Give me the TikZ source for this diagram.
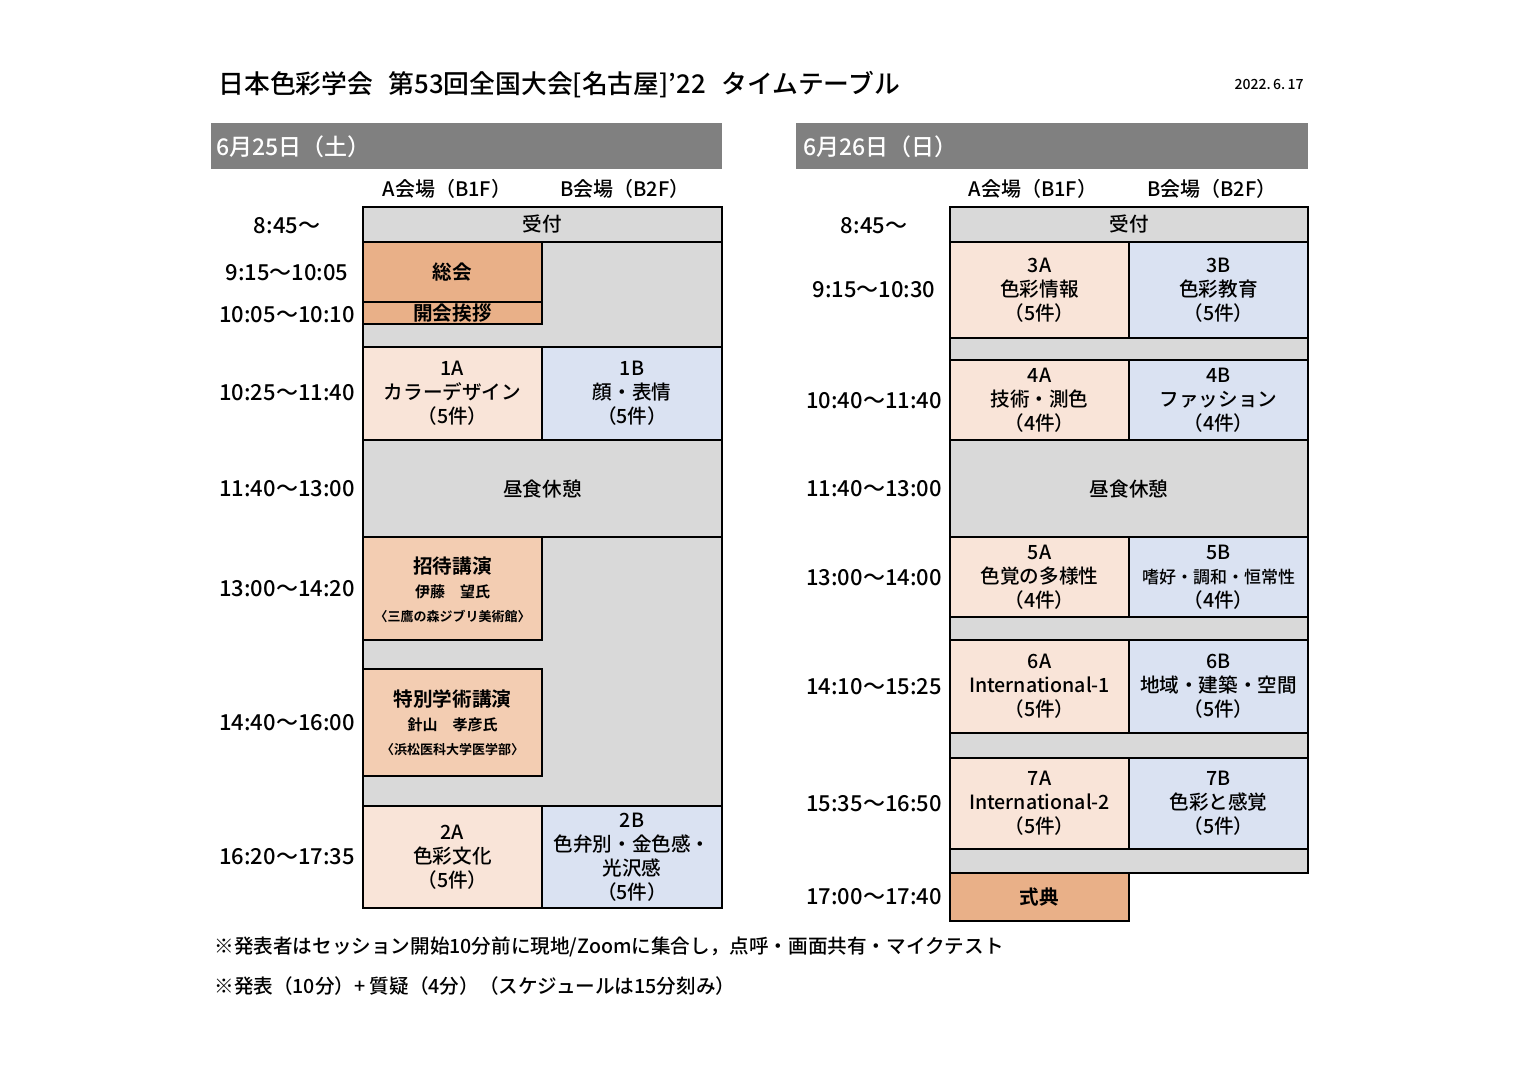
\documentclass[tikz,border=0pt]{standalone}
\usepackage{fontspec}
\setmainfont{Noto Sans CJK JP Medium}[BoldFont={Noto Sans CJK JP Bold}]
\usepackage{xcolor}
\usetikzlibrary{calc}
\definecolor{hdrgray}{HTML}{808080}
\definecolor{cellgray}{HTML}{D9D9D9}
\definecolor{cerem}{RGB}{233,176,136}
\definecolor{lect}{RGB}{243,205,178}
\definecolor{roomA}{RGB}{249,228,216}
\definecolor{roomB}{RGB}{218,226,242}
\tikzset{cell/.style = {draw=black,line width=0.6pt}}
\tikzset{brk/.style = {cell,fill=cellgray}}
\tikzset{cerembox/.style = {cell,fill=cerem}}
\tikzset{lectbox/.style = {cell,fill=lect}}
\tikzset{abox/.style = {cell,fill=roomA}}
\tikzset{bbox/.style = {cell,fill=roomB}}
\tikzset{lbl/.style = {align=center,inner sep=0pt,font=\fontsize{9.8}{12}\selectfont}}
\tikzset{boldlbl/.style = {lbl,font=\fontsize{9.8}{12}\selectfont\bfseries}}
\tikzset{timelbl/.style = {inner sep=0pt,font=\fontsize{11}{12}\selectfont}}
\tikzset{roomlbl/.style = {inner sep=0pt,font=\fontsize{10}{12}\selectfont}}
\tikzset{daylbl/.style = {anchor=west,inner sep=0pt,text=white,font=\fontsize{11.5}{12}\selectfont}}

\begin{document}
\begin{tikzpicture}[x=0.5pt,y=-0.5pt]
                    \useasboundingbox (0,0) rectangle (1520,1072);

                    % title
                    \node[anchor=west,inner sep=0pt,font=\fontsize{12.9}{14}\selectfont] (title) at (218,85) {日本色彩学会\hspace{0.6em}第53回全国大会[名古屋]’22\hspace{0.6em}タイムテーブル};
                    \node[anchor=east,inner sep=0pt,font=\fontsize{7}{8}\selectfont] (date) at (1304,84) {2022.\,6.\,17};

                    % day 1
                    \fill[hdrgray] (211,123) rectangle (722,169);
                    \node[daylbl] (day1) at (216,147) {6月25日（土）};
                    \node[roomlbl] (roomA1) at (447,189) {A会場（B1F）};
                    \node[roomlbl] (roomB1) at (625,189) {B会場（B2F）};

                    \filldraw[brk] (363,207) rectangle (722,242);
                    \filldraw[brk] (363,242) rectangle (722,347);
                    \filldraw[cerembox] (363,242) rectangle (542,302);
                    \filldraw[cerembox] (363,302) rectangle (542,324);
                    \filldraw[abox] (363,347) rectangle (542,440);
                    \filldraw[bbox] (542,347) rectangle (722,440);
                    \filldraw[brk] (363,440) rectangle (722,537);
                    \filldraw[brk] (363,537) rectangle (722,806);
                    \filldraw[lectbox] (363,537) rectangle (542,640);
                    \filldraw[lectbox] (363,669) rectangle (542,776);
                    \filldraw[abox] (363,806) rectangle (542,908);
                    \filldraw[bbox] (542,806) rectangle (722,908);

                    \node[lbl] (reg1) at (542.5,224.5) {受付};
                    \node[boldlbl] (soukai) at (452.5,272) {総会};
                    \node[boldlbl] (kaikai) at (452.5,313) {開会挨拶};
                    \node[lbl] (s1A) at (452.5,393.5) {1A\\カラーデザイン\\（5件）};
                    \node[lbl] (s1B) at (632,393.5) {1B\\顔・表情\\（5件）};
                    \node[lbl] (lunch1) at (542.5,488.5) {昼食休憩};
                    \node[boldlbl] (shotai) at (452.5,590) {招待講演\\{\fontsize{7.5}{10.5}\selectfont 伊藤　望氏}\\{\fontsize{6.5}{10}\selectfont 〈三鷹の森ジブリ美術館〉}};
                    \node[boldlbl] (tokubetsu) at (452.5,722.5) {特別学術講演\\{\fontsize{7.5}{10.5}\selectfont 針山　孝彦氏}\\{\fontsize{6.5}{10}\selectfont 〈浜松医科大学医学部〉}};
                    \node[lbl] (s2A) at (452.5,857) {2A\\色彩文化\\（5件）};
                    \node[lbl] (s2B) at (632,857) {2B\\色弁別・金色感・\\光沢感\\（5件）};

                    \node[timelbl] (t1) at (287,226) {8:45～};
                    \node[timelbl] (t2) at (287,273) {9:15～10:05};
                    \node[timelbl] (t3) at (287,315) {10:05～10:10};
                    \node[timelbl] (t4) at (287,393) {10:25～11:40};
                    \node[timelbl] (t5) at (287,489) {11:40～13:00};
                    \node[timelbl] (t6) at (287,589) {13:00～14:20};
                    \node[timelbl] (t7) at (287,723) {14:40～16:00};
                    \node[timelbl] (t8) at (287,857) {16:20～17:35};

                    % day 2
                    \fill[hdrgray] (796,123) rectangle (1308,169);
                    \node[daylbl] (day2) at (803,147) {6月26日（日）};
                    \node[roomlbl] (roomA2) at (1033,189) {A会場（B1F）};
                    \node[roomlbl] (roomB2) at (1212,189) {B会場（B2F）};

                    \filldraw[brk] (950,207) rectangle (1308,242);
                    \filldraw[brk] (950,242) rectangle (1308,873);
                    \filldraw[abox] (950,242) rectangle (1129,338);
                    \filldraw[bbox] (1129,242) rectangle (1308,338);
                    \filldraw[abox] (950,360) rectangle (1129,440);
                    \filldraw[bbox] (1129,360) rectangle (1308,440);
                    \filldraw[brk] (950,440) rectangle (1308,537);
                    \filldraw[abox] (950,537) rectangle (1129,617);
                    \filldraw[bbox] (1129,537) rectangle (1308,617);
                    \filldraw[abox] (950,640) rectangle (1129,733);
                    \filldraw[bbox] (1129,640) rectangle (1308,733);
                    \filldraw[abox] (950,758) rectangle (1129,849);
                    \filldraw[bbox] (1129,758) rectangle (1308,849);
                    \filldraw[cerembox] (950,873) rectangle (1129,921);

                    \node[lbl] (reg2) at (1129,224.5) {受付};
                    \node[lbl] (s3A) at (1039.5,290) {3A\\色彩情報\\（5件）};
                    \node[lbl] (s3B) at (1218.5,290) {3B\\色彩教育\\（5件）};
                    \node[lbl] (s4A) at (1039.5,400) {4A\\技術・測色\\（4件）};
                    \node[lbl] (s4B) at (1218.5,400) {4B\\ファッション\\（4件）};
                    \node[lbl] (lunch2) at (1129,488.5) {昼食休憩};
                    \node[lbl] (s5A) at (1039.5,577) {5A\\色覚の多様性\\（4件）};
                    \node[lbl] (s5B) at (1218.5,577) {5B\\{\fontsize{8.5}{12}\selectfont 嗜好・調和・恒常性}\\（4件）};
                    \node[lbl] (s6A) at (1039.5,686.5) {6A\\International-1\\（5件）};
                    \node[lbl] (s6B) at (1218.5,686.5) {6B\\地域・建築・空間\\（5件）};
                    \node[lbl] (s7A) at (1039.5,803.5) {7A\\International-2\\（5件）};
                    \node[lbl] (s7B) at (1218.5,803.5) {7B\\色彩と感覚\\（5件）};
                    \node[boldlbl] (shiki) at (1039.5,897) {式典};

                    \node[timelbl] (u1) at (874,226) {8:45～};
                    \node[timelbl] (u2) at (874,290) {9:15～10:30};
                    \node[timelbl] (u3) at (874,401) {10:40～11:40};
                    \node[timelbl] (u4) at (874,489) {11:40～13:00};
                    \node[timelbl] (u5) at (874,578) {13:00～14:00};
                    \node[timelbl] (u6) at (874,687) {14:10～15:25};
                    \node[timelbl] (u7) at (874,804) {15:35～16:50};
                    \node[timelbl] (u8) at (874,897) {17:00～17:40};

                    % notes
                    \node[anchor=west,inner sep=0pt,font=\fontsize{9.8}{12}\selectfont] (note1) at (214,947) {※発表者はセッション開始10分前に現地/Zoomに集合し，点呼・画面共有・マイクテスト};
                    \node[anchor=west,inner sep=0pt,font=\fontsize{9.8}{12}\selectfont] (note2) at (214,986) {※発表（10分）+ 質疑（4分）（スケジュールは15分刻み）};
                \end{tikzpicture}
\end{document}
